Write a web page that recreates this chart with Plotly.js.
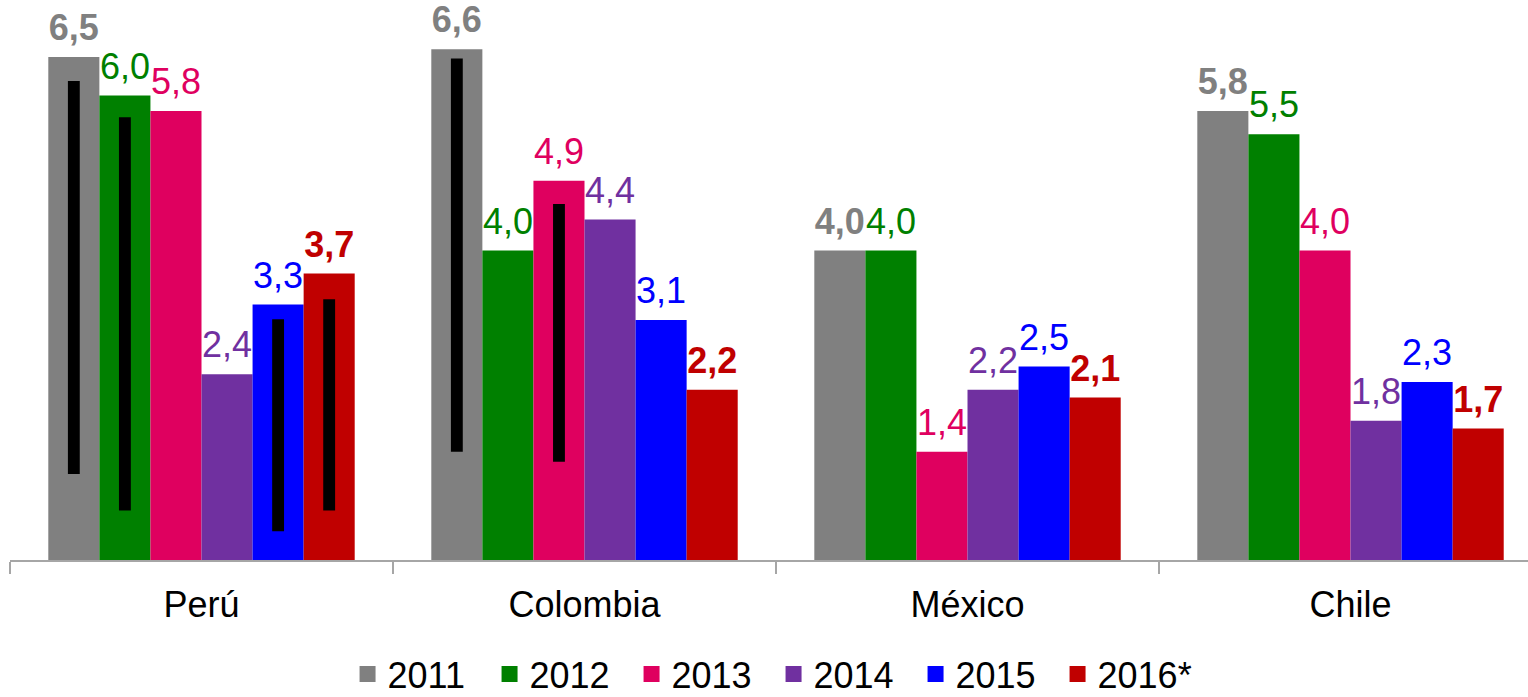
<!DOCTYPE html>
<html>
<head>
<meta charset="utf-8">
<script src="https://cdn.plot.ly/plotly-3.0.1.min.js"></script>
<style>html,body{margin:0;padding:0;background:#fff;}#chart{width:1528px;height:697px;}</style>
</head>
<body>
<div id="chart"></div>
<script>
// ---- data ----
const countries = ["Perú", "Colombia", "México", "Chile"];
const seriesNames = ["2011", "2012", "2013", "2014", "2015", "2016*"];
const v2011 = [6.5, 6.6, 4.0, 5.8];
const v2012 = [6.0, 4.0, 4.0, 5.5];
const v2013 = [5.8, 4.9, 1.4, 4.0];
const v2014 = [2.4, 4.4, 2.2, 1.8];
const v2015 = [3.3, 3.1, 2.5, 2.3];
const v2016 = [3.7, 2.2, 2.1, 1.7];
// black range bars (low / high), null where none
const low2011 = [1.11, 1.40, null, null];
const high2011 = [6.19, 6.48, null, null];
const low2012 = [0.64, null, null, null];
const high2012 = [5.72, null, null, null];
const low2013 = [null, 1.27, null, null];
const high2013 = [null, 4.60, null, null];
const low2014 = [null, null, null, null];
const high2014 = [null, null, null, null];
const low2015 = [0.37, null, null, null];
const high2015 = [3.11, null, null, null];
const low2016 = [0.64, null, null, null];
const high2016 = [3.37, null, null, null];

// ---- style ----
const colors = ["#808080", "#008000", "#DF005F", "#7030A0", "#0000FF", "#C00000"];
const boldLabel = [true, false, false, false, false, true];
const FONT = "Liberation Sans, Arial, sans-serif";
const LABEL_PAD = 0.075;

const values = [v2011, v2012, v2013, v2014, v2015, v2016];
const lows = [low2011, low2012, low2013, low2014, low2015, low2016];
const highs = [high2011, high2012, high2013, high2014, high2015, high2016];

const fmt = v => v.toFixed(1).replace(".", ",");

const traces = [];
// main bars
seriesNames.forEach((name, i) => {
  traces.push({
    type: "bar", name: name, x: countries, y: values[i],
    offsetgroup: "g" + i,
    marker: {color: colors[i], line: {width: 0}},
    showlegend: false, hoverinfo: "skip"
  });
});
// black range bars
seriesNames.forEach((name, i) => {
  traces.push({
    type: "bar", name: name + " rango", x: countries,
    base: lows[i],
    y: lows[i].map((l, k) => (l === null ? null : highs[i][k] - l)),
    offsetgroup: "g" + i, width: 0.031,
    marker: {color: "#000000", line: {width: 0}},
    showlegend: false, hoverinfo: "skip"
  });
});
// value labels (transparent spacer carrying text)
seriesNames.forEach((name, i) => {
  traces.push({
    type: "bar", name: name + " etiqueta", x: countries,
    base: values[i],
    y: values[i].map(() => LABEL_PAD),
    offsetgroup: "g" + i,
    marker: {color: "rgba(0,0,0,0)", line: {width: 0}},
    text: values[i].map(fmt),
    textposition: "outside",
    textangle: 0,
    constraintext: "none",
    cliponaxis: false,
    textfont: {family: FONT, size: 36, color: colors[i], weight: boldLabel[i] ? "bold" : "normal"},
    showlegend: false, hoverinfo: "skip"
  });
});
// legend entries (square swatches)
seriesNames.forEach((name, i) => {
  traces.push({
    type: "scatter", mode: "markers", name: name, x: [null], y: [null],
    marker: {symbol: "square", size: 18, color: colors[i], line: {width: 0}},
    showlegend: true, hoverinfo: "skip"
  });
});

const layout = {
  width: 1528, height: 697,
  margin: {l: 10, r: 0, t: 0, b: 137, autoexpand: false},
  paper_bgcolor: "#ffffff", plot_bgcolor: "#ffffff",
  barmode: "group", bargap: 0.2, bargroupgap: 0,
  font: {family: FONT, size: 36, color: "#000000"},
  xaxis: {
    type: "category", range: [-0.5, 3.4634], automargin: false,
    showline: true, linecolor: "#A6A6A6", linewidth: 1.5,
    ticks: "outside", tickson: "boundaries", ticklen: 12, tickwidth: 1.5, tickcolor: "#A6A6A6",
    ticklabelstandoff: 12,
    showgrid: false, zeroline: false,
    tickfont: {family: FONT, size: 36, color: "#000000"}
  },
  yaxis: {
    range: [0, 7.235], visible: false, showgrid: false, zeroline: false, automargin: false
  },
  showlegend: true,
  legend: {
    orientation: "h", x: 0.503, xanchor: "center", y: -0.2039, yanchor: "middle",
    entrywidth: 97, entrywidthmode: "pixels", itemsizing: "trace",
    font: {family: FONT, size: 36, color: "#000000"},
    traceorder: "normal"
  }
};

Plotly.newPlot("chart", traces, layout, {staticPlot: true, displayModeBar: false});
</script>
</body>
</html>
